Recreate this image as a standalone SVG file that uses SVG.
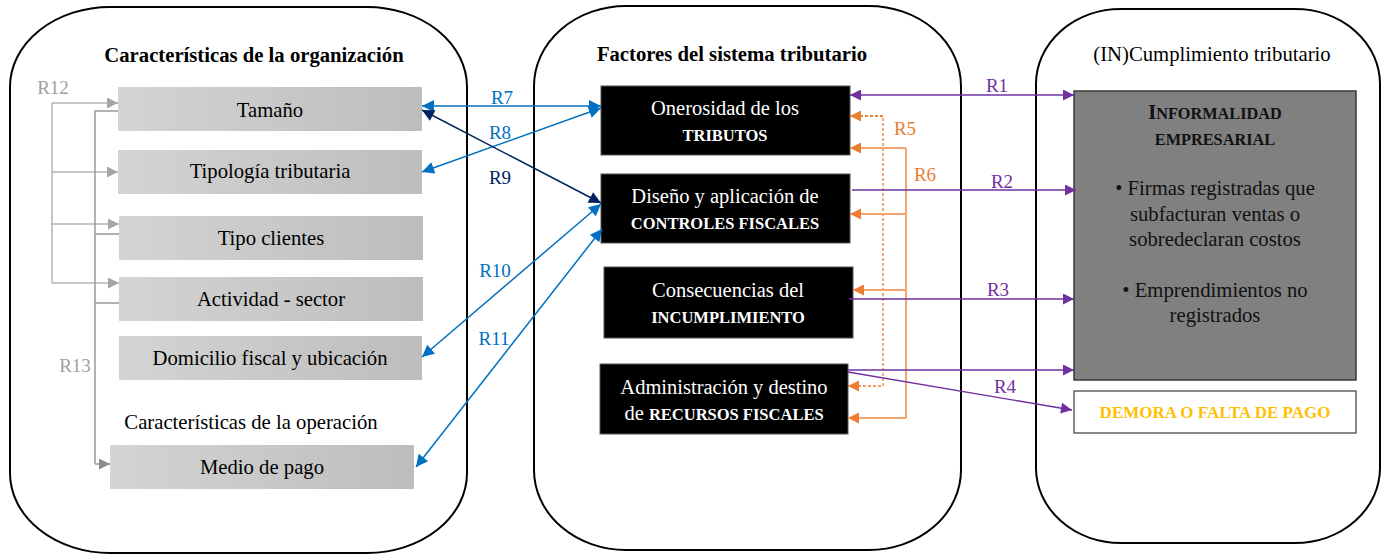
<svg xmlns="http://www.w3.org/2000/svg" width="1382" height="555" viewBox="0 0 1382 555">
<style>
text{font-family:"Liberation Serif","Times New Roman",serif;}
.panel{fill:#fff;stroke:#000;stroke-width:2;}
.title{font-size:20.7px;font-weight:bold;text-anchor:middle;fill:#000;}
.lbox{fill:url(#gg);}
.lt{font-size:20.7px;text-anchor:middle;fill:#000;}
.bbox{fill:#000;stroke:#555;stroke-width:1;}
.wt{font-size:20.5px;text-anchor:middle;fill:#fff;}
.wb{font-size:16.5px;font-weight:bold;}
.rt{font-size:20.7px;text-anchor:middle;fill:#111;}
.lab{font-size:19px;text-anchor:middle;}
.pur{stroke:#7030A0;stroke-width:1.3;fill:none;}
.org{stroke:#F4A46C;stroke-width:2;fill:none;}
.orgd{stroke:#ED7D31;stroke-width:1.3;fill:none;stroke-dasharray:3,2;}
.blu{stroke:#0070C0;stroke-width:1.5;fill:none;}
.nav{stroke:#002060;stroke-width:1.5;fill:none;}
.g12{stroke:#b4b4b4;stroke-width:1.5;fill:none;}
.g13{stroke:#999;stroke-width:1.5;fill:none;}
</style>
<defs>
<linearGradient id="gg" x1="0" y1="0" x2="1" y2="0">
<stop offset="0" stop-color="#d4d4d4"/>
<stop offset="1" stop-color="#bdbdbd"/>
</linearGradient>
<marker id="mP" viewBox="0 0 10 10" refX="10" refY="5" markerWidth="12" markerHeight="11" markerUnits="userSpaceOnUse" orient="auto-start-reverse"><path d="M0,0L10,5L0,10z" fill="#7030A0"/></marker>
<marker id="mO" viewBox="0 0 10 10" refX="10" refY="5" markerWidth="12" markerHeight="11" markerUnits="userSpaceOnUse" orient="auto-start-reverse"><path d="M0,0L10,5L0,10z" fill="#ED7D31"/></marker>
<marker id="mB" viewBox="0 0 10 10" refX="10" refY="5" markerWidth="14" markerHeight="12" markerUnits="userSpaceOnUse" orient="auto-start-reverse"><path d="M0,0L10,5L0,10z" fill="#0070C0"/></marker>
<marker id="mN" viewBox="0 0 10 10" refX="10" refY="5" markerWidth="14" markerHeight="12" markerUnits="userSpaceOnUse" orient="auto-start-reverse"><path d="M0,0L10,5L0,10z" fill="#002060"/></marker>
<marker id="mG" viewBox="0 0 10 10" refX="10" refY="5" markerWidth="11" markerHeight="11" markerUnits="userSpaceOnUse" orient="auto"><path d="M0,0L10,5L0,10z" fill="#a6a6a6"/></marker>
<marker id="mG2" viewBox="0 0 10 10" refX="10" refY="5" markerWidth="11" markerHeight="11" markerUnits="userSpaceOnUse" orient="auto"><path d="M0,0L10,5L0,10z" fill="#8c8c8c"/></marker>
</defs>

<g id="panel-org">
<rect class="panel" x="10" y="7" width="457" height="546" rx="100" ry="80"/>
<text class="title" x="254" y="62">Características de la organización</text>
</g>
<g id="panel-factores">
<rect class="panel" x="534" y="6" width="427" height="544" rx="92" ry="80"/>
<text class="title" x="732" y="61">Factores del sistema tributario</text>
</g>
<g id="panel-cumplimiento">
<rect class="panel" x="1036" y="9" width="344" height="534" rx="85" ry="75"/>
<text class="title" x="1212" y="61" style="font-weight:normal">(IN)Cumplimiento tributario</text>
</g>

<g id="tamano"><rect class="lbox" x="118" y="87" width="304" height="44"/><text class="lt" x="270" y="117">Tamaño</text></g>
<g id="tipologia"><rect class="lbox" x="118" y="150" width="304" height="44"/><text class="lt" x="270" y="178">Tipología tributaria</text></g>
<g id="tipo-clientes"><rect class="lbox" x="119" y="216" width="304" height="44"/><text class="lt" x="271" y="245">Tipo clientes</text></g>
<g id="actividad"><rect class="lbox" x="119" y="277" width="304" height="44"/><text class="lt" x="271" y="306">Actividad - sector</text></g>
<g id="domicilio"><rect class="lbox" x="119" y="336" width="303" height="44"/><text class="lt" x="270" y="365">Domicilio fiscal y ubicación</text></g>
<g id="operacion-titulo"><text class="lt" x="251" y="429">Características de la operación</text></g>
<g id="medio-pago"><rect class="lbox" x="110" y="445" width="304" height="44"/><text class="lt" x="262" y="474">Medio de pago</text></g>

<g id="onerosidad"><rect class="bbox" x="601" y="86" width="249" height="69"/><text class="wt" x="725" y="115">Onerosidad de los</text><text class="wt wb" x="725" y="141">TRIBUTOS</text></g>
<g id="diseno"><rect class="bbox" x="601" y="174" width="249" height="69"/><text class="wt" x="725" y="203">Diseño y aplicación de</text><text class="wt wb" x="725" y="229">CONTROLES FISCALES</text></g>
<g id="consecuencias"><rect class="bbox" x="604" y="267" width="249" height="71"/><text class="wt" x="728" y="297">Consecuencias del</text><text class="wt wb" x="728" y="323">INCUMPLIMIENTO</text></g>
<g id="administracion"><rect class="bbox" x="600" y="364" width="248" height="70"/><text class="wt" x="724" y="394">Administración y destino</text><text class="wt" x="724" y="420">de <tspan class="wb">RECURSOS FISCALES</tspan></text></g>

<g id="informalidad">
<rect x="1074" y="91" width="282" height="289" fill="#808080" stroke="#3a3a3a" stroke-width="1.5"/>
<text class="rt" x="1215" y="119" style="font-weight:bold"><tspan font-size="20.5">I</tspan><tspan font-size="16.3">NFORMALIDAD</tspan></text>
<text class="rt" x="1215" y="145" style="font-weight:bold;font-size:16.3px">EMPRESARIAL</text>
<text class="rt" x="1215" y="195">• Firmas registradas que</text>
<text class="rt" x="1215" y="221">subfacturan ventas o</text>
<text class="rt" x="1215" y="246">sobredeclaran costos</text>
<text class="rt" x="1215" y="297">• Emprendimientos no</text>
<text class="rt" x="1215" y="322">registrados</text>
</g>
<g id="demora">
<rect x="1074" y="391" width="282" height="42" fill="#fff" stroke="#3a3a3a" stroke-width="1.2"/>
<text x="1215" y="418" style="font-size:17px;font-weight:bold;text-anchor:middle;fill:#FFC000">DEMORA O FALTA DE PAGO</text>
</g>

<g id="connectors">
<path class="g12" d="M52,103V283"/>
<path class="g12" d="M52,103H118" marker-end="url(#mG)"/>
<path class="g12" d="M52,172H118" marker-end="url(#mG)"/>
<path class="g12" d="M52,224H119" marker-end="url(#mG)"/>
<path class="g12" d="M52,283H119" marker-end="url(#mG)"/>
<text class="lab" x="53" y="94" fill="#a0a0a0">R12</text>
<path class="g13" d="M118,111H95V464"/>
<path class="g13" d="M95,234H119"/>
<path class="g13" d="M95,303H119"/>
<path class="g13" d="M95,464H110" marker-end="url(#mG2)"/>
<text class="lab" x="75" y="372" fill="#a0a0a0">R13</text>
<path class="blu" d="M422,106H601" marker-start="url(#mB)" marker-end="url(#mB)"/>
<text class="lab" x="502" y="104" fill="#0070C0">R7</text>
<path class="blu" d="M601,108L422,172" marker-start="url(#mB)" marker-end="url(#mB)"/>
<text class="lab" x="500" y="139" fill="#0070C0">R8</text>
<path class="nav" d="M422,110L601,203" marker-start="url(#mN)" marker-end="url(#mN)"/>
<text class="lab" x="500" y="184" fill="#002060">R9</text>
<path class="blu" d="M601,204L422,357" marker-start="url(#mB)" marker-end="url(#mB)"/>
<text class="lab" x="495" y="277" fill="#0070C0">R10</text>
<path class="blu" d="M602,229L416,467" marker-start="url(#mB)" marker-end="url(#mB)"/>
<text class="lab" x="494" y="345" fill="#0070C0">R11</text>
<path class="orgd" d="M850,116H883V386H848" marker-end="url(#mO)"/>
<path class="orgd" d="M883,116H850" marker-end="url(#mO)"/>
<path class="org" d="M906,148V418"/>
<path class="org" d="M906,148H850" marker-end="url(#mO)"/>
<path class="org" d="M906,214H850" marker-end="url(#mO)"/>
<path class="org" d="M906,290H853" marker-end="url(#mO)"/>
<path class="org" d="M906,418H848" marker-end="url(#mO)"/>
<text class="lab" x="905" y="135" fill="#ED7D31">R5</text>
<text class="lab" x="925" y="181" fill="#ED7D31">R6</text>
<path class="pur" d="M850,95H1074" marker-start="url(#mP)" marker-end="url(#mP)"/>
<text class="lab" x="997" y="92" fill="#7030A0">R1</text>
<path class="pur" d="M852,190H1076" marker-end="url(#mP)"/>
<text class="lab" x="1002" y="188" fill="#7030A0">R2</text>
<path class="pur" d="M849,299H1074" marker-end="url(#mP)"/>
<text class="lab" x="998" y="296" fill="#7030A0">R3</text>
<path class="pur" d="M848,370H1074" marker-end="url(#mP)"/>
<path class="pur" d="M848,372L1072,410" marker-end="url(#mP)"/>
<text class="lab" x="1005" y="393" fill="#7030A0">R4</text>
</g>
</svg>
